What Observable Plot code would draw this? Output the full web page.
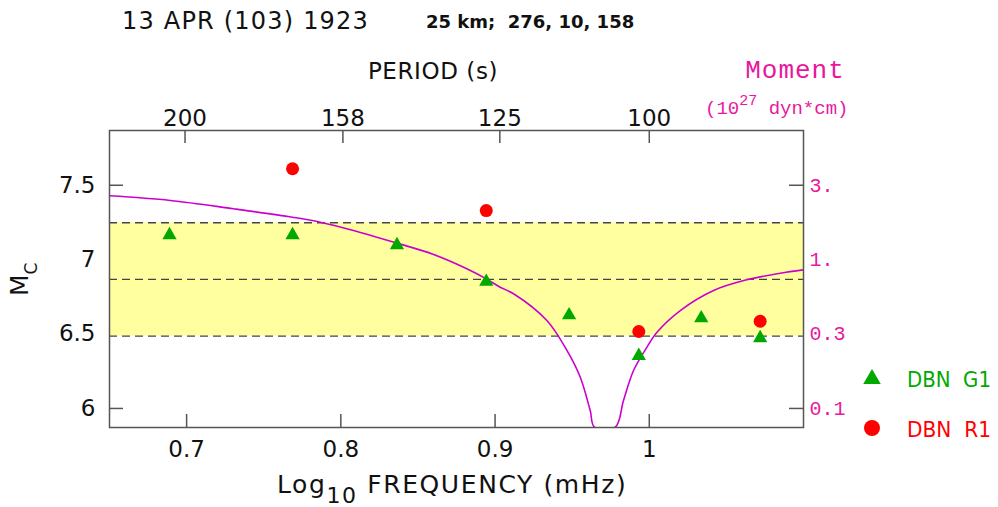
<!DOCTYPE html>
<html><head><meta charset="utf-8">
<script src="https://cdn.jsdelivr.net/npm/d3@7"></script>
<script src="https://cdn.jsdelivr.net/npm/@observablehq/plot@0.6"></script>
<style>
html,body{margin:0;padding:0;background:#fff;}
#chart svg{display:block;}
</style></head><body><div id="chart"></div>
<script>
// ---- data ----
const g1Freq = [0.6889, 0.7687, 0.8364, 0.8943, 0.9480, 0.9932, 1.0337, 1.0719];
const g1Mc   = [7.165, 7.165, 7.098, 6.852, 6.627, 6.354, 6.607, 6.473];
const r1Freq = [0.7687, 0.8943, 0.9932, 1.0719];
const r1Mc   = [7.611, 7.330, 6.517, 6.586];
const curveFreq = [0.650, 0.6894, 0.7304, 0.7687, 0.7866, 0.8082, 0.8364, 0.8601, 0.8817, 0.8943, 0.9033, 0.9120, 0.9336, 0.9466, 0.9552, 0.9617, 0.9645, 0.9779, 0.9833, 0.9898, 0.9985, 1.0050, 1.0201, 1.0417, 1.0633, 1.0849, 1.100];
const curveMc   = [7.429, 7.398, 7.342, 7.285, 7.252, 7.196, 7.111, 7.035, 6.939, 6.871, 6.815, 6.771, 6.591, 6.390, 6.211, 5.986, 5.874, 5.874, 6.054, 6.255, 6.412, 6.512, 6.658, 6.793, 6.865, 6.909, 6.932];
const bottomTicks = [0.7, 0.8, 0.9, 1];
const bottomTickLabels = ["0.7", "0.8", "0.9", "1"];
const periodTicks = [200, 158, 125, 100];
const mcTicks = [7.5, 7, 6.5, 6];
const mcTickLabels = ["7.5", "7", "6.5", "6"];
const momentTicks = [7.5, 7, 6.5, 6];
const momentTickLabels = ["3.", "1.", "0.3", "0.1"];
const bandLow = 6.486, bandMean = 6.867, bandHigh = 7.248;

// ---- layout ----
const W = 998, H = 507, mL = 109, mR = 195, mT = 130, mB = 80;
const xDom = [0.65, 1.1], yDom = [5.872, 7.868];
const tlx = 14 * (xDom[1] - xDom[0]) / (W - mL - mR);
const tly = 13 * (yDom[1] - yDom[0]) / (H - mT - mB);
const SANS = "DejaVu Sans";
const MONO = "Liberation Mono";
const MAG = "#e8189e";
const CURVE = "#cc00cc";
const GREEN = "#00a800";
const RED = "#ff0000";

const g1 = g1Freq.map((f, i) => ({f, mc: g1Mc[i]}));
const r1 = r1Freq.map((f, i) => ({f, mc: r1Mc[i]}));
const curve = curveFreq.map((f, i) => ({f, mc: curveMc[i]}));

const plot = Plot.plot({
  width: W, height: H,
  marginLeft: mL, marginRight: mR, marginTop: mT, marginBottom: mB,
  style: {background: "#fff"},
  x: {domain: xDom, axis: null},
  y: {domain: yDom, axis: null},
  marks: [
    Plot.ruleX(bottomTicks, {x: d => d, y1: () => yDom[0], y2: () => yDom[0] + tly, stroke: "#555", strokeWidth: 1.5}),
    Plot.ruleX(periodTicks, {x: p => Math.log10(1000 / p), y1: () => yDom[1], y2: () => yDom[1] - tly, stroke: "#555", strokeWidth: 1.5}),
    Plot.ruleY(mcTicks, {y: d => d, x1: () => xDom[0], x2: () => xDom[0] + tlx, stroke: "#555", strokeWidth: 1.5}),
    Plot.ruleY(momentTicks, {y: d => d, x1: () => xDom[1] - tlx, x2: () => xDom[1], stroke: "#555", strokeWidth: 1.5}),
    Plot.rect([0], {y1: () => bandLow, y2: () => bandHigh, fill: "#ffffa0"}),
    Plot.ruleY([bandLow, bandMean, bandHigh], {y: d => d, stroke: "#444", strokeWidth: 1.3, strokeDasharray: "8,5"}),
    Plot.line(curve, {x: "f", y: "mc", stroke: CURVE, strokeWidth: 1.6, curve: "catmull-rom", clip: true}),
    Plot.dot(g1, {x: "f", y: "mc", symbol: "triangle", r: 5.3, fill: GREEN, stroke: null}),
    Plot.dot(r1, {x: "f", y: "mc", symbol: "circle", r: 6.5, fill: RED, stroke: null}),
    Plot.frame({stroke: "#555", strokeWidth: 1.5}),
    Plot.text(bottomTicks, {x: d => d, text: (d, i) => bottomTickLabels[i], frameAnchor: "bottom", dy: 29, fontSize: 23, fontFamily: SANS, fill: "#111"}),
    Plot.text(periodTicks, {x: p => Math.log10(1000 / p), text: p => String(p), frameAnchor: "top", dy: -21, fontSize: 23, fontFamily: SANS, fill: "#111"}),
    Plot.text(mcTicks, {y: d => d, text: (d, i) => mcTickLabels[i], frameAnchor: "left", dx: -14, textAnchor: "end", fontSize: 23, fontFamily: SANS, fill: "#111"}),
    Plot.text(momentTicks, {y: d => d, text: (d, i) => momentTickLabels[i], frameAnchor: "right", dx: 6, textAnchor: "start", fontSize: 20, fontFamily: MONO, fill: MAG})
  ]
});
document.getElementById("chart").appendChild(plot);

// ---- annotation text ----
const svg = d3.select(plot);
const ann = svg.append("g").attr("fill", "#111").attr("text-anchor", "start");
ann.append("text").attr("x", 122).attr("y", 29).attr("font-family", SANS).attr("font-size", 24).attr("letter-spacing", 1.2).text("13 APR (103) 1923");
ann.append("text").attr("x", 426).attr("y", 28).attr("font-family", SANS).attr("font-weight", "bold").attr("font-size", 18).style("white-space", "pre").text("25 km;  276, 10, 158");
ann.append("text").attr("x", 433).attr("y", 79).attr("text-anchor", "middle").attr("font-family", SANS).attr("font-size", 23).attr("letter-spacing", 0.6).text("PERIOD (s)");
ann.append("text").attr("x", 795).attr("y", 78).attr("text-anchor", "middle").attr("font-family", MONO).attr("font-size", 26).attr("letter-spacing", 1).attr("fill", MAG).text("Moment");
const mom = ann.append("text").attr("x", 705).attr("y", 114).attr("font-family", MONO).attr("font-size", 19).attr("fill", MAG).style("white-space", "pre");
mom.append("tspan").text("(10");
mom.append("tspan").attr("dy", -9).attr("font-size", 15).text("27");
mom.append("tspan").attr("dy", 9).text(" dyn*cm)");

// x label
const xl = ann.append("text").attr("x", 277).attr("y", 493).attr("font-family", SANS).attr("font-size", 25).attr("letter-spacing", 1.6);
xl.append("tspan").text("Log");
xl.append("tspan").attr("dy", 10).attr("font-size", 22).text("10");
xl.append("tspan").attr("dy", -10).text(" FREQUENCY (mHz)");

// y label
const yl = ann.append("text").attr("transform", "translate(28,296) rotate(-90)").attr("font-family", SANS).attr("font-size", 25);
yl.append("tspan").text("M");
yl.append("tspan").attr("dy", 9).attr("font-size", 17).text("C");

// legend
const leg = svg.append("g").attr("text-anchor", "start");
leg.append("path").attr("transform", "translate(872,379)").attr("d", d3.symbol(d3.symbolTriangle, Math.PI * 6.5 * 6.5)()).attr("fill", GREEN);
leg.append("text").attr("x", 907).attr("y", 387).attr("font-family", SANS).attr("font-size", 21).attr("textLength", 84).attr("lengthAdjust", "spacingAndGlyphs").attr("fill", GREEN).style("white-space", "pre").text("DBN  G1");
leg.append("circle").attr("cx", 872).attr("cy", 428).attr("r", 8).attr("fill", RED);
leg.append("text").attr("x", 907).attr("y", 437).attr("font-family", SANS).attr("font-size", 21).attr("textLength", 84).attr("lengthAdjust", "spacingAndGlyphs").attr("fill", RED).style("white-space", "pre").text("DBN  R1");
</script>
</body></html>
